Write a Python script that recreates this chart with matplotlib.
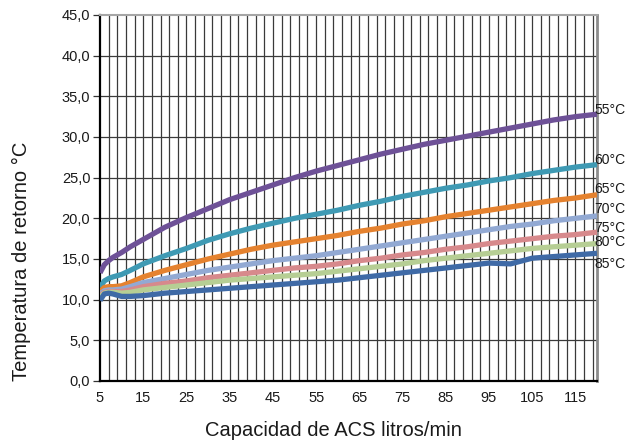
import matplotlib
matplotlib.use("Agg")
import matplotlib.pyplot as plt
import numpy as np
from matplotlib import font_manager

# Flow rate (litres/min) and return temperature for each supply temperature
caudal = [5, 6, 7, 8, 10, 12, 15, 20, 25, 30, 35, 40, 45, 50, 55, 60, 65,
          70, 75, 80, 85, 90, 95, 100, 105, 110, 115, 120]

t55 = [13.3, 14.3, 14.8, 15.2, 15.8, 16.5, 17.4, 18.9, 20.1, 21.2, 22.3, 23.2,
       24.1, 25.0, 25.8, 26.5, 27.2, 27.9, 28.5, 29.1, 29.6, 30.1, 30.6, 31.1,
       31.6, 32.1, 32.5, 32.8]
t60 = [11.5, 12.3, 12.6, 12.8, 13.1, 13.6, 14.4, 15.4, 16.3, 17.3, 18.1, 18.8,
       19.4, 20.0, 20.5, 21.0, 21.6, 22.1, 22.7, 23.2, 23.7, 24.1, 24.6, 25.0,
       25.5, 25.9, 26.3, 26.6]
t65 = [11.0, 11.5, 11.6, 11.6, 11.7, 12.1, 12.8, 13.6, 14.3, 15.0, 15.6, 16.2,
       16.7, 17.1, 17.5, 17.9, 18.4, 18.8, 19.3, 19.7, 20.2, 20.6, 21.0, 21.4,
       21.8, 22.2, 22.5, 22.9]
t70 = [10.7, 11.1, 11.2, 11.2, 11.3, 11.6, 12.1, 12.6, 13.1, 13.6, 14.0, 14.4,
       14.8, 15.1, 15.4, 15.8, 16.2, 16.6, 17.0, 17.4, 17.8, 18.2, 18.6, 19.0,
       19.3, 19.7, 20.0, 20.3]
t75 = [10.5, 10.9, 11.0, 11.0, 11.0, 11.2, 11.6, 12.0, 12.3, 12.7, 13.0, 13.3,
       13.6, 13.9, 14.1, 14.4, 14.8, 15.1, 15.5, 15.8, 16.2, 16.5, 16.9, 17.2,
       17.5, 17.8, 18.0, 18.3]
t80 = [10.3, 10.8, 10.9, 10.9, 10.8, 10.9, 11.2, 11.5, 11.8, 12.1, 12.4, 12.6,
       12.8, 13.0, 13.2, 13.5, 13.8, 14.1, 14.4, 14.8, 15.1, 15.4, 15.7, 16.0,
       16.3, 16.5, 16.7, 16.9]
t85 = [9.9, 10.7, 10.8, 10.7, 10.4, 10.4, 10.5, 10.8, 11.0, 11.2, 11.4, 11.6,
       11.8, 12.0, 12.2, 12.4, 12.7, 13.0, 13.3, 13.6, 13.9, 14.2, 14.5, 14.4,
       15.1, 15.3, 15.5, 15.7]

series_labels = ["55°C", "60°C", "65°C", "70°C", "75°C", "80°C", "85°C"]
series_values = [t55, t60, t65, t70, t75, t80, t85]

x_ticks = [5, 15, 25, 35, 45, 55, 65, 75, 85, 95, 105, 115]
y_ticks = [0, 5, 10, 15, 20, 25, 30, 35, 40, 45]

colors = ["#6E5197", "#3F9AB4", "#E5822F", "#92A9D3", "#D7898C", "#B6CE94",
          "#3F6AA6"]
label_offsets = [3, 3, 4, 5, 3, 1, -8]  # vertical nudge of end labels, points

available = {f.name for f in font_manager.fontManager.ttflist}
base_font = "Liberation Sans" if "Liberation Sans" in available else "DejaVu Sans"
plt.rcParams["font.family"] = [base_font, "DejaVu Sans"]

fig = plt.figure(figsize=(6.25, 4.43), dpi=100)
ax = fig.add_axes([100 / 625, 1 - 381 / 443, 497 / 625, 366 / 443])

# Grid
for xv in np.arange(7, 120, 2):
    ax.axvline(xv, color="#3a3a3a", lw=0.9, zorder=1)
for yv in y_ticks[1:-1]:
    ax.axhline(yv, color="#3a3a3a", lw=0.9, zorder=1)

for vals, col, lab, off in zip(series_values, colors, series_labels, label_offsets):
    ax.plot(caudal, vals, color=col, lw=3.8, solid_capstyle="butt", zorder=3)
    ax.annotate(lab, (caudal[-1], vals[-1]), xytext=(-2, off),
                textcoords="offset points", ha="left", va="center",
                fontsize=10, color="#1a1a1a", annotation_clip=False, zorder=5)

ax.set_xlim(5, 120)
ax.set_ylim(0, 45)
ax.set_xticks(x_ticks)
ax.set_xticklabels([str(v) for v in x_ticks], fontsize=10.5, color="#1a1a1a")
ax.set_yticks(y_ticks)
ax.set_yticklabels([f"{v:.1f}".replace(".", ",") for v in y_ticks],
                   fontsize=10.5, color="#1a1a1a")
ax.tick_params(axis="x", length=0, pad=7)
ax.tick_params(axis="y", length=5, width=0.9, pad=2, color="#333333")

for side in ("left", "bottom"):
    ax.spines[side].set_color("black")
    ax.spines[side].set_linewidth(1.6)
ax.spines["top"].set_color("#a6a6a6")
ax.spines["top"].set_linewidth(1.5)
ax.spines["right"].set_color("#8c8c8c")
ax.spines["right"].set_linewidth(2.0)

fig.text(21 / 625, 1 - 261 / 443, "Temperatura de retorno °C", rotation=90,
         ha="center", va="center", fontsize=14.5, color="#1a1a1a")
fig.text(333 / 625, 1 - 431 / 443, "Capacidad de ACS litros/min",
         ha="center", va="center", fontsize=14.5, color="#1a1a1a")

fig.savefig("out.png", dpi=100)
